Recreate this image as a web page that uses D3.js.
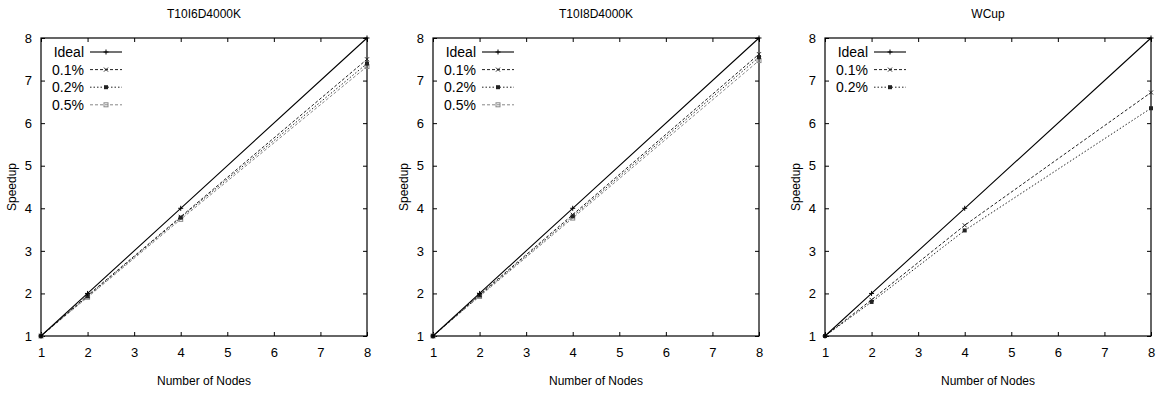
<!DOCTYPE html>
<html lang="en">
  <head>
    <meta charset="UTF-8" />
    <title>Speedup vs Number of Nodes</title>
    <script src="https://d3js.org/d3.v7.min.js"></script>
    <style>
      body {
        margin: 0;
        background: #fff;
      }
      svg text {
        font-family: "Liberation Sans Narrow", "Liberation Sans", Arial, sans-serif;
        font-size: 13px;
        fill: #000;
      }
    </style>
  </head>
  <body>
    <svg width="1158" height="394" id="chart"></svg>
    <script>
      // data
      const nodes = [1, 2, 4, 8];
      const xTicks = [1, 2, 3, 4, 5, 6, 7, 8];
      const yTicks = [1, 2, 3, 4, 5, 6, 7, 8];

      const titles = ["T10I6D4000K", "T10I8D4000K", "WCup"];

      const seriesNames = ["Ideal", "0.1%", "0.2%", "0.5%"];

      const ideal = [1, 2, 4, 8];
      const p1_01 = [1, 1.95, 3.8, 7.5];
      const p1_02 = [1, 1.93, 3.78, 7.4];
      const p1_05 = [1, 1.91, 3.74, 7.33];

      const p2_01 = [1, 1.97, 3.85, 7.62];
      const p2_02 = [1, 1.95, 3.81, 7.55];
      const p2_05 = [1, 1.93, 3.77, 7.47];

      const p3_01 = [1, 1.85, 3.6, 6.72];
      const p3_02 = [1, 1.8, 3.48, 6.35];

      const panels = [
        [ideal, p1_01, p1_02, p1_05],
        [ideal, p2_01, p2_02, p2_05],
        [ideal, p3_01, p3_02]
      ];

      const styles = [
        { stroke: "#000", dash: null, width: 1.1, marker: "plus" },
        { stroke: "#222", dash: "3,2", width: 1, marker: "cross" },
        { stroke: "#222", dash: "1.5,2", width: 1, marker: "fsquare" },
        { stroke: "#888", dash: "3,2", width: 1, marker: "osquare" }
      ];

      const svg = d3.select("#chart");
      const plotW = 326;
      const plotH = 298;
      const plotTop = 38;
      const lefts = [41, 433, 825];

      const xScale = d3.scaleLinear().domain([1, 8]).range([0, plotW]);
      const yScale = d3.scaleLinear().domain([1, 8]).range([plotH, 0]);

      function drawMarker(g, type, x, y, color) {
        const s = 2.5;
        if (type === "plus") {
          g.append("path")
            .attr("d", `M${x - s},${y}H${x + s}M${x},${y - s}V${y + s}`)
            .attr("stroke", color)
            .attr("stroke-width", 1);
        } else if (type === "cross") {
          g.append("path")
            .attr("d", `M${x - 2},${y - 2}L${x + 2},${y + 2}M${x - 2},${y + 2}L${x + 2},${y - 2}`)
            .attr("stroke", color)
            .attr("stroke-width", 1);
        } else if (type === "fsquare") {
          g.append("rect")
            .attr("x", x - 2)
            .attr("y", y - 2)
            .attr("width", 4)
            .attr("height", 4)
            .attr("fill", color);
        } else {
          g.append("rect")
            .attr("x", x - 2)
            .attr("y", y - 2)
            .attr("width", 4)
            .attr("height", 4)
            .attr("fill", "none")
            .attr("stroke", color)
            .attr("stroke-width", 1);
        }
      }

      panels.forEach((series, p) => {
        const g = svg
          .append("g")
          .attr("transform", `translate(${lefts[p]},${plotTop})`);

        // ticks on all four sides, pointing inward
        const tickLen = 4;
        g.append("g")
          .attr("transform", `translate(0,${plotH})`)
          .call(d3.axisBottom(xScale).tickValues(xTicks).tickSize(-tickLen).tickPadding(12).tickFormat(d3.format("d")))
          .call((a) => a.select(".domain").remove());
        g.append("g")
          .call(d3.axisTop(xScale).tickValues(xTicks).tickSize(-tickLen).tickFormat(""))
          .call((a) => a.select(".domain").remove());
        g.append("g")
          .call(d3.axisLeft(yScale).tickValues(yTicks).tickSize(-tickLen).tickPadding(9).tickFormat(d3.format("d")))
          .call((a) => a.select(".domain").remove());
        g.append("g")
          .attr("transform", `translate(${plotW},0)`)
          .call(d3.axisRight(yScale).tickValues(yTicks).tickSize(-tickLen).tickFormat(""))
          .call((a) => a.select(".domain").remove());

        g.selectAll(".tick line").attr("stroke", "#000");
        g.selectAll(".tick text").style("font-size", "13px");

        g.append("rect")
          .attr("width", plotW)
          .attr("height", plotH)
          .attr("fill", "none")
          .attr("stroke", "#000")
          .attr("stroke-width", 1.2);

        const lineGen = d3
          .line()
          .x((d, i) => xScale(nodes[i]))
          .y((d) => yScale(d));

        // draw back to front so Ideal sits on top
        series
          .map((vals, i) => ({ vals, i }))
          .reverse()
          .forEach(({ vals, i }) => {
            const st = styles[i];
            g.append("path")
              .datum(vals)
              .attr("d", lineGen)
              .attr("fill", "none")
              .attr("stroke", st.stroke)
              .attr("stroke-width", st.width)
              .attr("stroke-dasharray", st.dash);
            vals.forEach((v, k) => {
              drawMarker(g, st.marker, xScale(nodes[k]), yScale(v), st.stroke);
            });
          });

        // legend
        series.forEach((vals, i) => {
          const st = styles[i];
          const ly = 14 + i * 17.6;
          g.append("text")
            .attr("x", 43)
            .attr("y", ly)
            .attr("dy", "0.35em")
            .attr("text-anchor", "end")
            .style("font-size", "14px")
            .text(seriesNames[i]);
          g.append("line")
            .attr("x1", 49)
            .attr("x2", 81)
            .attr("y1", ly)
            .attr("y2", ly)
            .attr("stroke", st.stroke)
            .attr("stroke-width", st.width)
            .attr("stroke-dasharray", st.dash);
          drawMarker(g, st.marker, 65, ly, st.stroke);
        });

        // title and axis labels
        svg
          .append("text")
          .attr("x", lefts[p] + plotW / 2)
          .attr("y", 14)
          .attr("dy", "0.35em")
          .attr("text-anchor", "middle")
          .style("font-size", "12px")
          .text(titles[p]);

        svg
          .append("text")
          .attr("x", lefts[p] + plotW / 2)
          .attr("y", 381)
          .attr("dy", "0.35em")
          .attr("text-anchor", "middle")
          .style("font-size", "12px")
          .text("Number of Nodes");

        svg
          .append("text")
          .attr("transform", `translate(${lefts[p] - 29},${plotTop + plotH / 2}) rotate(-90)`)
          .attr("dy", "0.35em")
          .attr("text-anchor", "middle")
          .style("font-size", "12px")
          .text("Speedup");
      });
    </script>
  </body>
</html>
